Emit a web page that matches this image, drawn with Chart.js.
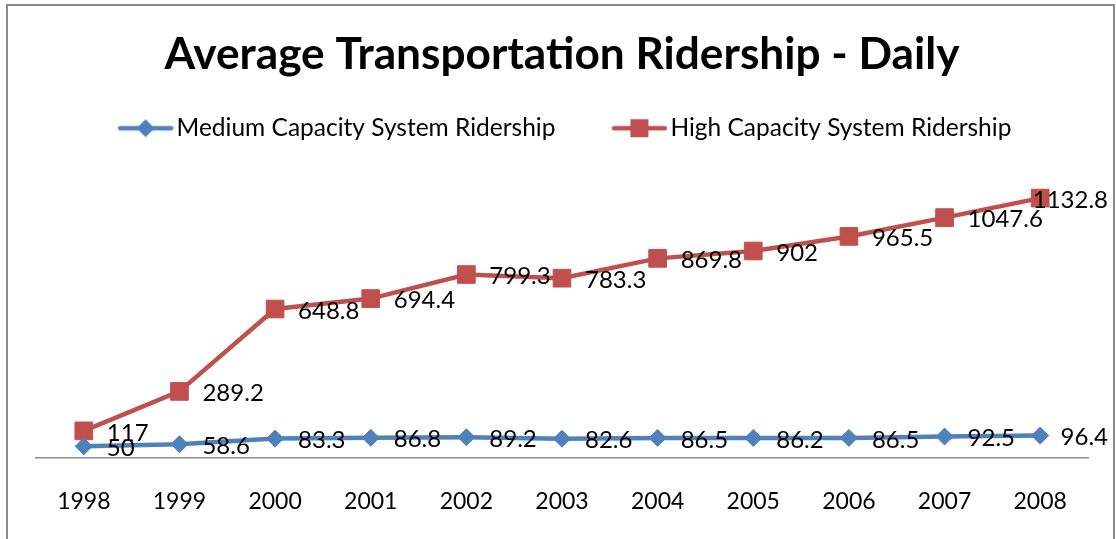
<!DOCTYPE html>
<html>
<head>
<meta charset="utf-8">
<script src="https://cdn.jsdelivr.net/npm/chart.js@4.4.1/dist/chart.umd.min.js"></script>
<style>
  html, body { margin: 0; padding: 0; background: #ffffff; }
  #wrap { width: 1116px; height: 539px; position: relative; }
</style>
</head>
<body>
<div id="wrap"><canvas id="c" width="1116" height="539"></canvas></div>
<script>
// ---- data ----
const chartTitle = 'Average Transportation Ridership - Daily';
const years = ['1998', '1999', '2000', '2001', '2002', '2003', '2004', '2005', '2006', '2007', '2008'];
const mediumName = 'Medium Capacity System Ridership';
const highName = 'High Capacity System Ridership';
const mediumRidership = [50, 58.6, 83.3, 86.8, 89.2, 82.6, 86.5, 86.2, 86.5, 92.5, 96.4];
const highRidership = [117, 289.2, 648.8, 694.4, 799.3, 783.3, 869.8, 902, 965.5, 1047.6, 1132.8];
const yAxisMin = 0;
const yAxisMax = 1200;

// ---- styles ----
const BLUE = '#4F81BD';
const RED = '#C0504D';
const FONT = 'Lato, "Open Sans", "Noto Sans", sans-serif';
const LEGEND_FONT_SIZE = 24.5;
const LEGEND_PAD = 22.2;
const LEGEND_BOX = 80.5;

function legendSwatch(color, shape) {
  const cv = document.createElement('canvas');
  const W = 99, H = 24;
  cv.width = W; cv.height = H;
  const g = cv.getContext('2d');
  const x0 = W - 56, x1 = W, cx = (x0 + x1) / 2, cy = H / 2;
  g.strokeStyle = color; g.lineWidth = 4.5; g.lineCap = 'round';
  g.beginPath(); g.moveTo(x0 + 2.5, cy); g.lineTo(x1 - 2.5, cy); g.stroke();
  g.fillStyle = color;
  g.beginPath();
  if (shape === 'diamond') {
    g.moveTo(cx - 9, cy); g.lineTo(cx, cy - 9); g.lineTo(cx + 9, cy); g.lineTo(cx, cy + 9);
  } else {
    g.rect(cx - 9, cy - 9, 18, 18);
  }
  g.closePath(); g.fill();
  return cv;
}
const swatchBlue = legendSwatch(BLUE, 'diamond');
const swatchRed = legendSwatch(RED, 'square');

const framePlugin = {
  id: 'frame',
  beforeDraw(chart) {
    const ctx = chart.ctx;
    ctx.save();
    ctx.fillStyle = '#ffffff';
    ctx.fillRect(0, 0, chart.width, chart.height);
    ctx.strokeStyle = '#8a8a8a';
    ctx.lineWidth = 2;
    ctx.strokeRect(7, 5, chart.width - 9, chart.height + 20);
    ctx.restore();
  }
};

const valueLabelPlugin = {
  id: 'valueLabels',
  afterDatasetsDraw(chart) {
    const ctx = chart.ctx;
    const size = 24;
    ctx.save();
    ctx.font = size + 'px ' + FONT;
    ctx.fillStyle = '#000000';
    ctx.textAlign = 'left';
    ctx.textBaseline = 'alphabetic';
    chart.data.datasets.forEach((ds, di) => {
      const meta = chart.getDatasetMeta(di);
      meta.data.forEach((pt, i) => {
        const txt = String(ds.data[i]);
        const w = ctx.measureText(txt).width;
        let x = pt.x + 23;
        const maxRight = chart.width - 8;
        if (x + w > maxRight) x = maxRight - w;
        const y = pt.y + size * 0.36 + 1;
        ctx.fillText(txt, x, y);
      });
    });
    ctx.restore();
  }
};

new Chart(document.getElementById('c'), {
  type: 'line',
  data: {
    labels: years,
    datasets: [
      {
        label: mediumName,
        data: mediumRidership,
        borderColor: BLUE,
        backgroundColor: BLUE,
        borderWidth: 4.5,
        pointStyle: 'rectRot',
        pointRadius: 8.5,
        pointBorderWidth: 1,
        pointBackgroundColor: BLUE,
        pointBorderColor: BLUE,
        tension: 0
      },
      {
        label: highName,
        data: highRidership,
        borderColor: RED,
        backgroundColor: RED,
        borderWidth: 4.5,
        pointStyle: 'rect',
        pointRadius: 12.5,
        pointBorderWidth: 1,
        pointBackgroundColor: RED,
        pointBorderColor: RED,
        tension: 0
      }
    ]
  },
  options: {
    responsive: false,
    animation: false,
    devicePixelRatio: 1,
    layout: { padding: { left: 7.2, right: 28, top: 0, bottom: 0 } },
    plugins: {
      title: {
        display: true,
        fullSize: false,
        text: chartTitle,
        color: '#000000',
        font: { family: FONT, size: 44.2, weight: 'bold', lineHeight: 1.2 },
        padding: { top: 28.5, bottom: 12.2 }
      },
      subtitle: {
        display: true,
        text: ' ',
        weight: 500,
        font: { size: 1, lineHeight: 1 },
        padding: { top: 31.25, bottom: 0 }
      },
      legend: {
        display: true,
        position: 'top',
        labels: {
          color: '#000000',
          font: { family: FONT, size: LEGEND_FONT_SIZE },
          usePointStyle: true,
          pointStyleWidth: LEGEND_BOX,
          padding: LEGEND_PAD,
          generateLabels(chart) {
            return [
              { text: mediumName, pointStyle: swatchBlue, fillStyle: BLUE, strokeStyle: BLUE, lineWidth: 0, hidden: false, datasetIndex: 0, fontColor: '#000' },
              { text: highName, pointStyle: swatchRed, fillStyle: RED, strokeStyle: RED, lineWidth: 0, hidden: false, datasetIndex: 1, fontColor: '#000' }
            ];
          }
        }
      },
      tooltip: { enabled: false }
    },
    scales: {
      x: {
        offset: true,
        grid: { display: false, drawTicks: false },
        border: { display: true, color: '#8c8c8c', width: 1.5 },
        ticks: { color: '#000000', font: { family: FONT, size: 23 }, padding: 30, maxRotation: 0, autoSkip: false },
        afterFit(scale) { scale.height = 81.3; }
      },
      y: {
        display: true,
        min: yAxisMin,
        max: yAxisMax,
        grid: { display: false, drawTicks: false },
        border: { display: false },
        ticks: { display: false },
        afterFit(scale) { scale.width = 28.8; }
      }
    }
  },
  plugins: [framePlugin, valueLabelPlugin]
});
</script>
</body>
</html>
